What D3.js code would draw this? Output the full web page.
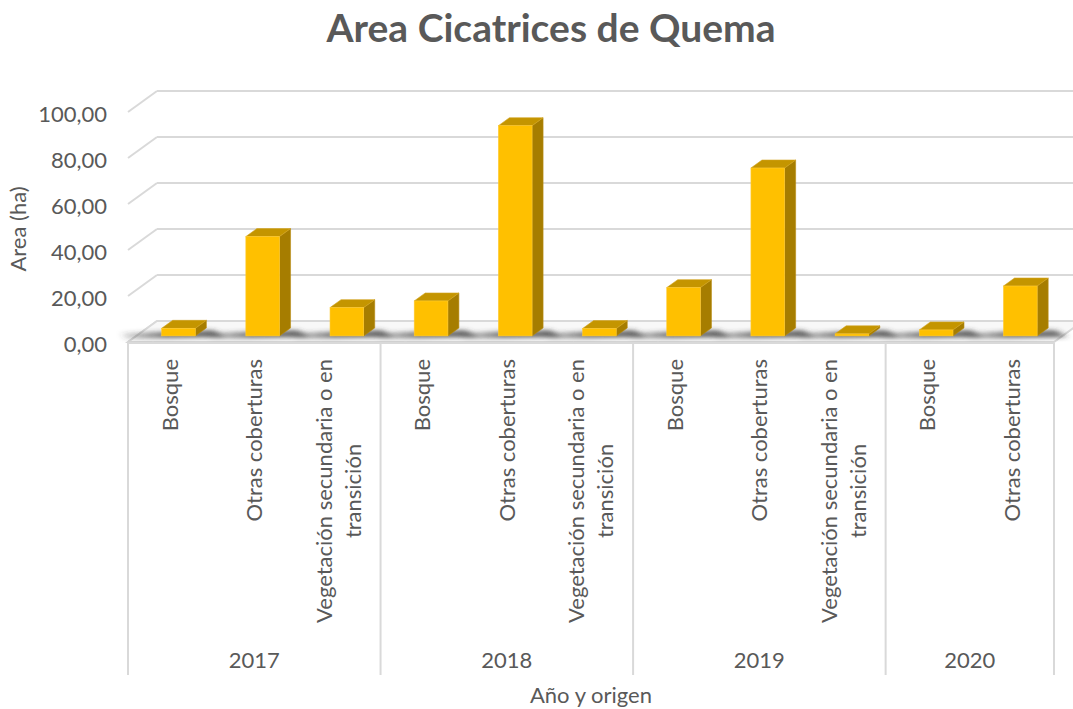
<!DOCTYPE html>
<html>
<head>
<meta charset="utf-8">
<script src="https://cdn.jsdelivr.net/npm/d3@7"></script>
<style>
  html, body { margin: 0; padding: 0; background: #ffffff; }
  svg { display: block; }
  text { font-family: Lato, "Open Sans", sans-serif; fill: #595959; }
</style>
</head>
<body>
<svg id="chart" width="1073" height="709"></svg>
<script>
// Burned area by year and land-cover origin (ha)
const years = ["2017", "2018", "2019", "2020"];
const origins = [
  ["Bosque", "Otras coberturas", "Vegetación secundaria o en transición"],
  ["Bosque", "Otras coberturas", "Vegetación secundaria o en transición"],
  ["Bosque", "Otras coberturas", "Vegetación secundaria o en transición"],
  ["Bosque", "Otras coberturas"]
];
const areaHa = [
  [3.3, 43.2, 12.3],
  [15.2, 91.4, 3.2],
  [21.0, 73.0, 0.9],
  [2.6, 21.7]
];
const yTicks = [0, 20, 40, 60, 80, 100];
const titleText = "Area Cicatrices de Quema";
const yTitle = "Area (ha)";
const xTitle = "Año y origen";

// Flatten into one row per bar
const rows = [];
years.forEach((yr, gi) => {
  origins[gi].forEach((o, i) => rows.push({ id: yr + "|" + i, year: yr, origin: o, value: areaHa[gi][i] }));
});

const svg = d3.select("#chart");
const W = 1073, H = 709;
svg.append("rect").attr("width", W).attr("height", H).attr("fill", "#ffffff");

// Oblique projection of the 3D plot box
const plotX0 = 128, plotX1 = 1054;
const depthDX = 29, depthDY = -21;             // full floor depth offset
const depth = f => [depthDX * f, depthDY * f];

const x = d3.scaleBand().domain(rows.map(r => r.id)).range([plotX0, plotX1])
  .paddingInner(0.6).paddingOuter(0.3);
const xCat = d3.scaleBand().domain(rows.map(r => r.id)).range([plotX0, plotX1]);
const y = d3.scaleLinear().domain([0, 100]).range([342, 112]);

const defs = svg.append("defs");
const blur = defs.append("filter").attr("id", "soft").attr("x", "-50%").attr("y", "-200%")
  .attr("width", "200%").attr("height", "500%");
blur.append("feGaussianBlur").attr("stdDeviation", "3.5 2");
const shade = defs.append("linearGradient").attr("id", "shade").attr("x1", "0").attr("x2", "1");
shade.append("stop").attr("offset", "0").attr("stop-color", "#3a3a3a").attr("stop-opacity", 0.15);
shade.append("stop").attr("offset", "0.45").attr("stop-color", "#3a3a3a").attr("stop-opacity", 0.7);
shade.append("stop").attr("offset", "1").attr("stop-color", "#3a3a3a").attr("stop-opacity", 0.75);

const gridColor = "#d9d9d9";
const [bwx, bwy] = depth(1);

// Back wall and side wall gridlines
const grid = svg.append("g").attr("stroke", gridColor).attr("stroke-width", 2).attr("fill", "none");
yTicks.forEach(t => {
  const yf = y(t);
  grid.append("line").attr("x1", plotX0).attr("y1", yf).attr("x2", plotX0 + bwx).attr("y2", yf + bwy);
  if (t > 0) grid.append("line").attr("x1", plotX0 + bwx).attr("y1", yf + bwy).attr("x2", W + 20).attr("y2", yf + bwy);
});

// Floor
const floorPts = [[plotX0, y(0)], [plotX1, y(0)], [plotX1 + bwx, y(0) + bwy], [plotX0 + bwx, y(0) + bwy]];
svg.append("polygon").attr("points", floorPts.map(p => p.join(",")).join(" "))
  .attr("fill", "#f8f8f8").attr("stroke", gridColor).attr("stroke-width", 2);

// Bars sit in the middle of the floor depth
const fFront = 0.29, fBack = 0.67;
const [fdx, fdy] = depth(fFront);
const [sdx, sdy] = [depthDX * (fBack - fFront), depthDY * (fBack - fFront)];
const yb = v => y(v) + fdy;

// Soft floor shadows beside each bar
const shadows = svg.append("g").attr("filter", "url(#soft)");
rows.forEach(r => {
  const x0 = x(r.id) + fdx, bw = x.bandwidth();
  shadows.append("polygon")
    .attr("points", [
      [x0 - 40, yb(0) - 3], [x0 + bw + 18, yb(0) - 6],
      [x0 + bw + 30, yb(0) + 1], [x0 - 36, yb(0) + 3]
    ].map(p => p.join(",")).join(" "))
    .attr("fill", "url(#shade)");
});

// 3D columns
const bars = svg.append("g");
rows.forEach(r => {
  const x0 = x(r.id) + fdx, bw = x.bandwidth();
  const yt = yb(r.value), y0 = yb(0);
  const g = bars.append("g");
  // right side
  g.append("polygon").attr("points", [
    [x0 + bw, y0], [x0 + bw + sdx, y0 + sdy], [x0 + bw + sdx, yt + sdy], [x0 + bw, yt]
  ].map(p => p.join(",")).join(" ")).attr("fill", "#a67d00").attr("stroke", "#b88c10").attr("stroke-width", 0.6);
  // top
  g.append("polygon").attr("points", [
    [x0, yt], [x0 + bw, yt], [x0 + bw + sdx, yt + sdy], [x0 + sdx, yt + sdy]
  ].map(p => p.join(",")).join(" ")).attr("fill", "#c49500").attr("stroke", "#d4a520").attr("stroke-width", 0.6);
  // front
  g.append("rect").attr("x", x0).attr("y", yt).attr("width", bw).attr("height", y0 - yt)
    .attr("fill", "#ffc000").attr("stroke", "#ffcb33").attr("stroke-width", 0.6);
});

// Category axis frame
const axisTop = y(0) + 1, axisBottom = 675;
const frame = svg.append("g").attr("stroke", gridColor).attr("stroke-width", 2);
frame.append("line").attr("x1", plotX0).attr("x2", plotX1).attr("y1", axisTop).attr("y2", axisTop);
const bounds = [];
let acc = 0;
bounds.push(plotX0);
origins.forEach(list => { acc += list.length; bounds.push(xCat(rows[acc - 1].id) + xCat.bandwidth()); });
bounds.forEach(bx => frame.append("line").attr("x1", bx).attr("x2", bx).attr("y1", axisTop).attr("y2", axisBottom));

// Category labels, rotated, top-aligned and wrapped
const fontSize = 22;
const labelTop = 359;
const lineGap = 29;
const labels = svg.append("g").attr("font-size", fontSize);
const splitLabel = s => s === "Vegetación secundaria o en transición" ? ["Vegetación secundaria o en", "transición"] : [s];
rows.forEach(r => {
  const cx = xCat(r.id) + xCat.bandwidth() / 2;
  const lines = splitLabel(r.origin);
  const offs = lines.map((_, i) => (i - (lines.length - 1) / 2) * lineGap);
  // measure the longest line to center shorter ones under it
  const tmp = labels.append("text").text(lines[0]);
  const maxLen = tmp.node().getComputedTextLength();
  tmp.remove();
  const cy = labelTop + maxLen / 2;
  lines.forEach((ln, i) => {
    labels.append("text")
      .attr("transform", `translate(${cx + offs[i]},${cy}) rotate(-90)`)
      .attr("text-anchor", "middle").attr("dy", "0.35em").text(ln);
  });
});

// Year labels
years.forEach((yr, gi) => {
  const mid = (bounds[gi] + bounds[gi + 1]) / 2;
  svg.append("text").attr("x", mid).attr("y", 668).attr("text-anchor", "middle")
    .attr("font-size", fontSize).text(yr);
});

// Value axis labels
const fmt = d3.formatLocale({ decimal: ",", thousands: ".", grouping: [3], currency: ["", ""] }).format(".2f");
svg.append("g").attr("font-size", fontSize).selectAll("text").data(yTicks).join("text")
  .attr("x", 107).attr("y", d => y(d) + 2.5).attr("dy", "0.35em").attr("text-anchor", "end").text(fmt);

// Axis titles
svg.append("text").attr("transform", `translate(18,229) rotate(-90)`).attr("text-anchor", "middle")
  .attr("dy", "0.35em").attr("font-size", fontSize).text(yTitle);
svg.append("text").attr("x", 591).attr("y", 703).attr("text-anchor", "middle")
  .attr("font-size", fontSize).text(xTitle);

// Title
svg.append("text").attr("x", 551).attr("y", 42).attr("text-anchor", "middle")
  .attr("font-size", 39).attr("font-weight", "bold").text(titleText);
</script>
</body>
</html>
